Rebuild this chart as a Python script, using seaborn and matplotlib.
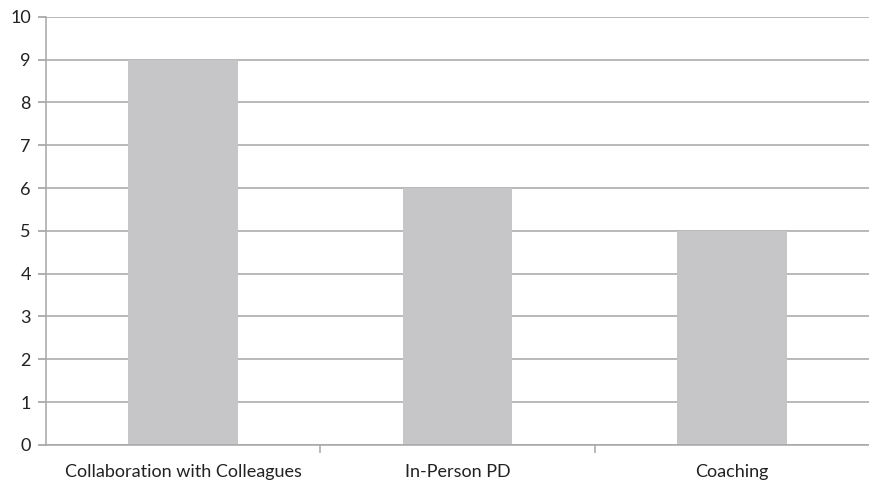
import matplotlib
matplotlib.use("Agg")
import matplotlib.pyplot as plt
import seaborn as sns
import pandas as pd

categories = ["Collaboration with Colleagues", "In-Person PD", "Coaching"]
counts = [9, 6, 5]
y_ticks = list(range(0, 11))

df = pd.DataFrame({"category": categories, "count": counts})

sns.set_theme(style="white")
plt.rcParams["font.family"] = ["Lato", "DejaVu Sans"]

fig = plt.figure(figsize=(8.7, 4.83), dpi=100)
ax = fig.add_axes([0.053, 0.079, 0.946, 0.886])

grid_color = "#a6a6a6"
for v in y_ticks:
    ax.axhline(v, color=grid_color, lw=1.1, zorder=0)

sns.barplot(data=df, x="category", y="count", color="#c6c6c8",
            width=0.40, saturation=1, ax=ax, zorder=2, edgecolor="none")

ax.set_ylim(0, 10)
ax.set_xlim(-0.5, 2.5)
ax.set_yticks(y_ticks)
ax.set_xlabel("")
ax.set_ylabel("")

for s in ["top", "right"]:
    ax.spines[s].set_visible(False)
for s in ["left", "bottom"]:
    ax.spines[s].set_color(grid_color)
    ax.spines[s].set_linewidth(1.1)

ax.tick_params(axis="y", left=True, length=6, color=grid_color, labelsize=13,
               labelcolor="#222222", pad=5)
ax.tick_params(axis="x", bottom=False, labelsize=13, labelcolor="#222222", pad=8)

# category separator ticks below the axis
ax.set_xticks([0.5, 1.5], minor=True)
ax.tick_params(axis="x", which="minor", bottom=True, length=6, color=grid_color,
               direction="out", width=1.1)

fig.savefig("out.png", dpi=100)
